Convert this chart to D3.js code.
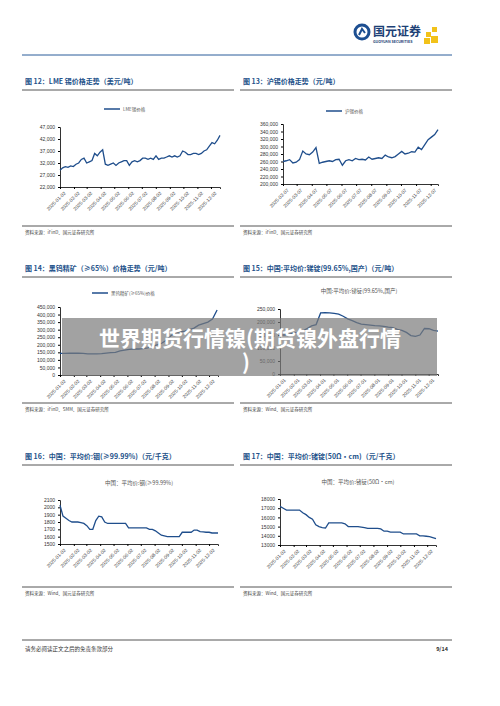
<!DOCTYPE html>
<html><head><meta charset="utf-8">
<script src="https://cdn.jsdelivr.net/npm/d3@7"></script>
<style>body{margin:0;background:#fff}svg{font-family:"Noto Sans CJK SC","Noto Sans",sans-serif}</style>
</head><body><svg id="page" width="500" height="706"></svg>
<script>
// weekly-ish readings, spread evenly between first and last date
var lmeTin = [29000,30000,30500,30200,30800,30500,31500,32000,33500,34000,32000,32500,33000,36000,35000,36500,37500,31500,31000,31500,32000,31000,32000,32500,33000,33000,31000,32500,33000,32500,33000,34000,34000,33500,34000,33500,35000,33500,34000,34000,34500,35000,34500,35000,34500,35000,37000,36500,35500,35500,36000,36000,35500,36000,37000,37500,39000,40500,40000,41500,43500];
var shTin = [260000,262000,265000,256000,258000,265000,288000,280000,278000,285000,297000,255000,258000,260000,262000,260000,265000,266000,250000,262000,265000,262000,268000,265000,266000,264000,272000,266000,268000,270000,268000,277000,272000,270000,273000,280000,287000,280000,282000,286000,285000,298000,292000,305000,318000,325000,332000,345000];
var tungsten = [143000,143000,144000,144000,145000,143000,140000,140000,140000,142000,145000,148000,150000,160000,165000,170000,172000,172000,175000,180000,190000,200000,210000,230000,260000,280000,285000,290000,300000,310000,330000,340000,350000,370000,430000];
var antimony = [150000,150000,152000,158000,160000,165000,175000,185000,190000,235000,236000,235000,233000,230000,222000,212000,205000,198000,192000,190000,188000,186000,185000,183000,180000,178000,172000,168000,160000,148000,145000,150000,175000,174000,168000,165000];
var indium = [2030,1880,1850,1820,1800,1800,1800,1790,1780,1750,1700,1700,1820,1880,1870,1800,1780,1780,1780,1780,1780,1780,1780,1720,1720,1720,1720,1720,1720,1720,1700,1700,1680,1650,1620,1610,1600,1600,1600,1600,1600,1660,1660,1660,1660,1690,1690,1670,1665,1660,1660,1650,1650,1650];
var germanium = [17200,17000,16800,16800,16800,16800,16800,16500,16300,16000,15800,15200,15000,14900,14850,15400,15400,15400,15400,15400,15300,15000,15000,15000,15000,14950,14900,14800,14800,14800,14800,14750,14500,14500,14400,14400,14400,14400,14200,14200,14200,14200,14200,14000,14000,13950,13900,13800,13700];

var ticks0102 = ["2025-01-02","2025-02-02","2025-03-02","2025-04-02","2025-05-02","2025-06-02","2025-07-02","2025-08-02","2025-09-02","2025-10-02","2025-11-02","2025-12-02"];
var ticks0207 = ["2025-02-07","2025-03-07","2025-04-07","2025-05-07","2025-06-07","2025-07-07","2025-08-07","2025-09-07","2025-10-07","2025-11-07","2025-12-07"];
var ticks0101 = ["2025-01-01","2025-02-01","2025-03-01","2025-04-01","2025-05-01","2025-06-01","2025-07-01","2025-08-01","2025-09-01","2025-10-01","2025-11-01","2025-12-01"];

var titleColor = "#24528a", lineColor = "#1f4e8c", parse = d3.timeParse("%Y-%m-%d");
var svg = d3.select("#page");

// header
svg.append("line").attr("x1",22).attr("x2",452).attr("y1",55).attr("y2",55).attr("stroke","#2a5d9a").attr("stroke-width",1);
var logo = svg.append("g").attr("transform","translate(354,24)");
logo.append("circle").attr("cx",8).attr("cy",8).attr("r",7).attr("fill","none").attr("stroke","#1d4f91").attr("stroke-width",3);
logo.append("path").attr("d","M5,11 L8,5 L11,9").attr("fill","none").attr("stroke","#1d4f91").attr("stroke-width",2);
logo.append("text").attr("x",19).attr("y",12).attr("font-size",12).attr("font-weight","bold").attr("fill","#1d3f75").text("国元证券");
logo.append("text").attr("x",19).attr("y",19).attr("font-size",3.6).attr("font-weight","bold").attr("fill","#1d3f75").text("GUOYUAN SECURITIES");
[[72,8,5],[78,3,5],[70,14,6],[77,12,7]].forEach(function(s){
  logo.append("rect").attr("x",s[0]).attr("y",s[1]).attr("width",s[2]).attr("height",s[2]).attr("fill","#f2c21a");
});

function panel(o){
  var g = svg.append("g");
  g.append("text").attr("x",o.x0+3).attr("y",o.ty).attr("font-size",7).attr("font-weight","bold").attr("fill",titleColor).text(o.title);
  g.append("line").attr("x1",o.x0).attr("x2",o.x0+212).attr("y1",o.ty+6).attr("y2",o.ty+6).attr("stroke","#555").attr("stroke-width",1);
  g.append("line").attr("x1",o.x0).attr("x2",o.x0+212).attr("y1",o.by).attr("y2",o.by).attr("stroke","#555").attr("stroke-width",1);
  g.append("text").attr("x",o.x0+3).attr("y",o.by+8).attr("font-size",4.5).attr("fill","#444").text(o.source);
  if (o.legend){
    var lx = o.lx;
    g.append("line").attr("x1",lx).attr("x2",lx+16).attr("y1",o.ly).attr("y2",o.ly).attr("stroke",lineColor).attr("stroke-width",1.5);
    g.append("text").attr("x",lx+19).attr("y",o.ly+1.5).attr("font-size",4.5).attr("fill","#555").text(o.legend);
  } else {
    g.append("text").attr("x",(o.l+o.r)/2).attr("y",o.ly+2).attr("text-anchor","middle").attr("font-size",5.5).attr("fill","#555").text(o.sub);
  }
  var x = d3.scaleTime().domain([parse(o.start),parse(o.end)]).range([o.l,o.r]);
  var y = d3.scaleLinear().domain(o.yd).range([o.b,o.t]);
  var step = (parse(o.last)-parse(o.first))/(o.data.length-1);
  var pts = o.data.map(function(v,i){ return [new Date(+parse(o.first)+i*step), v]; });
  var ya = g.append("g").attr("transform","translate("+o.l+",0)")
    .call(d3.axisLeft(y).tickValues(d3.range(o.yd[0],o.yd[1]+1,o.ys)).tickSize(2).tickFormat(o.fmt));
  ya.select(".domain").attr("stroke","#333");
  ya.selectAll("text").attr("font-size",5).attr("fill","#333");
  var xa = g.append("g").attr("transform","translate(0,"+o.b+")")
    .call(d3.axisBottom(x).tickValues(o.ticks.map(parse)).tickSize(2).tickFormat(d3.timeFormat("%Y-%m-%d")));
  xa.select(".domain").attr("stroke","#333");
  xa.selectAll("text").attr("font-size",4.8).attr("fill","#444").attr("text-anchor","end")
    .attr("transform","translate(2,1) rotate(-45)").attr("dy","0.3em").attr("dx","-0.3em");
  g.append("path").datum(pts).attr("fill","none").attr("stroke",lineColor).attr("stroke-width",1.3)
    .attr("d",d3.line().x(function(d){return x(d[0]);}).y(function(d){return y(d[1]);}));
}

var fmtK = d3.format(",");
panel({x0:22,ty:84,by:226,title:"图 12：LME 锡价格走势（美元/吨）",source:"资料来源：iFinD、国元证券研究所",legend:"LME锡价格",lx:104,ly:109,
  l:60,r:220,t:127,b:187,yd:[22000,47000],ys:5000,fmt:fmtK,start:"2025-01-02",end:"2025-12-22",first:"2025-01-02",last:"2025-12-22",ticks:ticks0102,data:lmeTin});
panel({x0:240,ty:84,by:226,title:"图 13：沪锡价格走势（元/吨）",source:"资料来源：iFinD、国元证券研究所",legend:"沪锡价格",lx:326,ly:111,
  l:283,r:438,t:124,b:184,yd:[200000,360000],ys:20000,fmt:fmtK,start:"2025-02-07",end:"2025-12-22",first:"2025-02-07",last:"2025-12-22",ticks:ticks0207,data:shTin});
panel({x0:22,ty:271,by:403,title:"图 14：黑钨精矿（≥65%）价格走势（元/吨）",source:"资料来源：iFinD、SMM、国元证券研究所",legend:"黑钨精矿(≥65%)价格",lx:92,ly:293,
  l:60,r:218,t:307,b:375,yd:[0,450000],ys:50000,fmt:fmtK,start:"2025-01-02",end:"2025-12-22",first:"2025-01-02",last:"2025-12-20",ticks:ticks0102,data:tungsten});
panel({x0:240,ty:271,by:403,title:"图 15：中国:平均价:锑锭(99.65%,国产)（元/吨）",source:"资料来源：Wind、国元证券研究所",sub:"中国:平均价:锑锭(99.65%,国产)",ly:291,
  l:280,r:438,t:309,b:374,yd:[0,250000],ys:50000,fmt:fmtK,start:"2025-01-01",end:"2025-12-22",first:"2025-01-01",last:"2025-12-22",ticks:ticks0101,data:antimony});
panel({x0:22,ty:459,by:587,title:"图 16：中国：平均价:铟(≥99.99%)（元/千克）",source:"资料来源：Wind、国元证券研究所",sub:"中国：平均价:铟(≥99.99%)",ly:483,
  l:60,r:218,t:500,b:544,yd:[1500,2100],ys:100,fmt:d3.format("d"),start:"2025-01-02",end:"2025-12-22",first:"2025-01-02",last:"2025-12-22",ticks:ticks0102,data:indium});
panel({x0:240,ty:459,by:587,title:"图 17：中国：平均价:锗锭(50Ω·cm)（元/千克）",source:"资料来源：Wind、国元证券研究所",sub:"中国：平均价:锗锭(50Ω·cm)",ly:482,
  l:280,r:436,t:499,b:545,yd:[13000,18000],ys:1000,fmt:d3.format("d"),start:"2025-01-02",end:"2025-12-22",first:"2025-01-02",last:"2025-12-22",ticks:ticks0102,data:germanium});

// footer
svg.append("line").attr("x1",22).attr("x2",452).attr("y1",640).attr("y2",640).attr("stroke","#555").attr("stroke-width",1);
svg.append("text").attr("x",25).attr("y",651).attr("font-size",5.5).attr("fill","#333").text("请务必阅读正文之后的免责条款部分");
svg.append("text").attr("x",448).attr("y",651).attr("text-anchor","end").attr("font-size",5.5).attr("font-weight","bold").attr("fill","#333").text("9/14");

// watermark
svg.append("rect").attr("x",62).attr("y",318).attr("width",375).attr("height",58).attr("fill","#7a7a7a").attr("opacity",0.7);
svg.append("text").attr("x",250).attr("y",346).attr("text-anchor","middle").attr("font-size",21).attr("font-weight","bold").attr("fill","#fff").text("世界期货行情镍(期货镍外盘行情");
svg.append("text").attr("x",246).attr("y",370).attr("text-anchor","middle").attr("font-size",21).attr("font-weight","bold").attr("fill","#fff").text(")");
</script></body></html>
